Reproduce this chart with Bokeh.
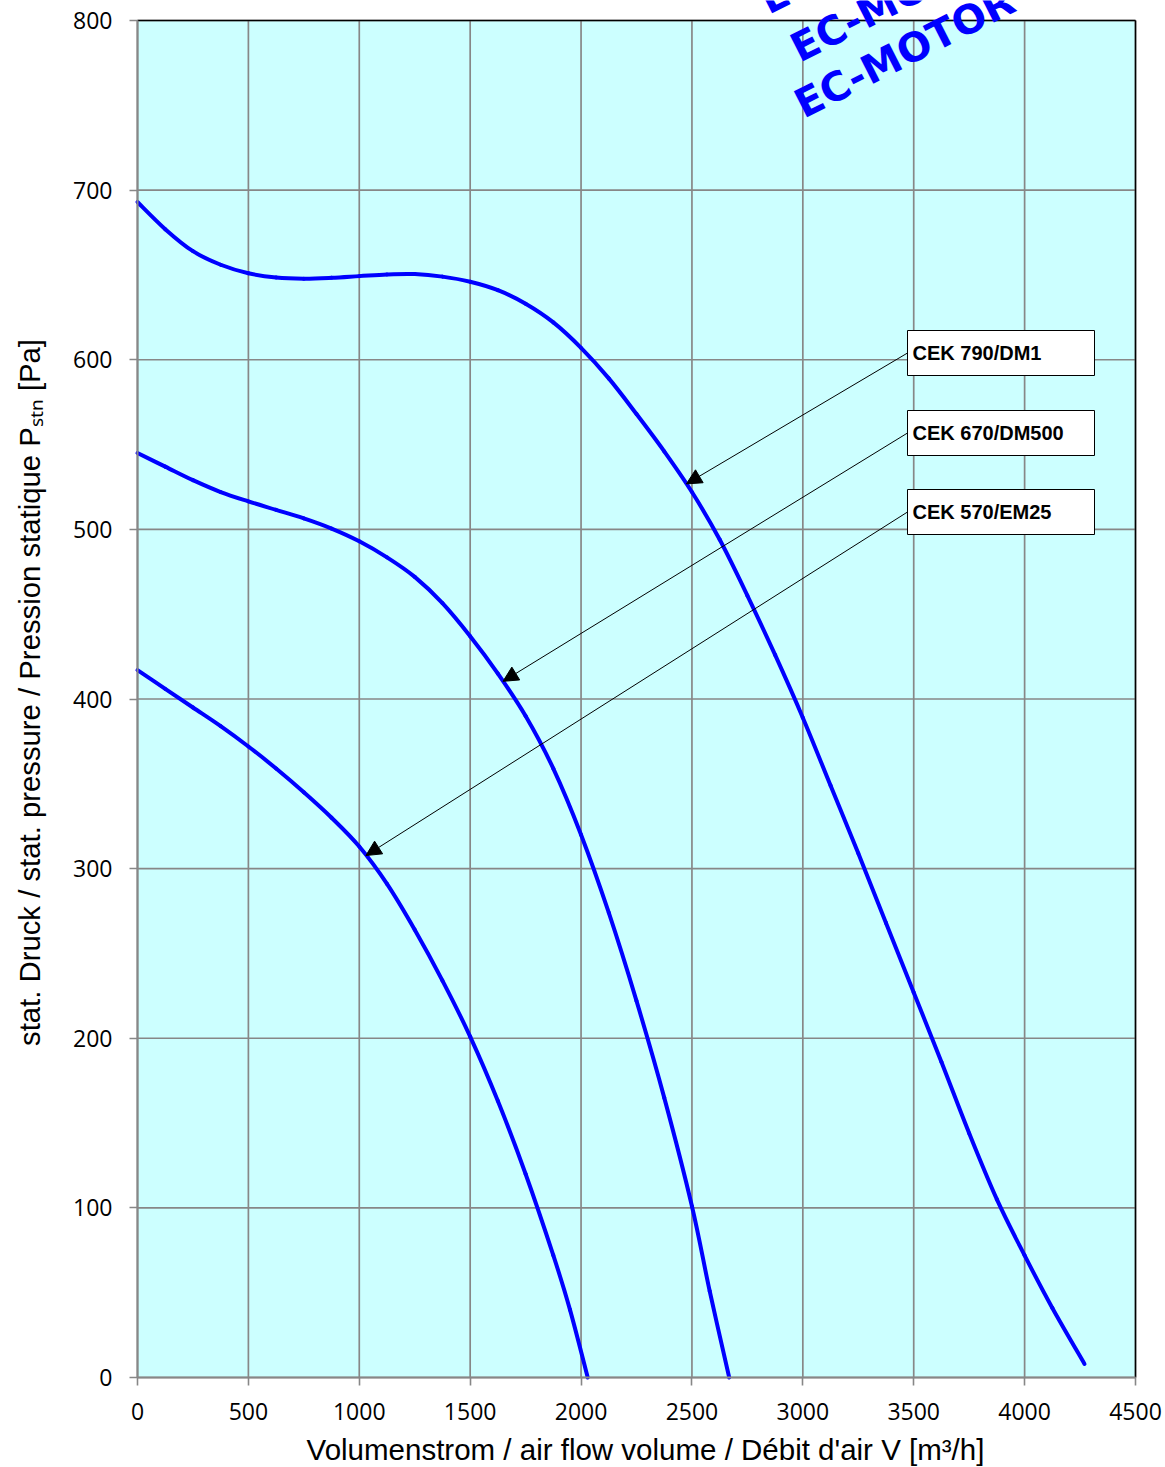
import numpy as np
from bokeh.plotting import figure
from bokeh.models import Range1d, Label, Arrow, NormalHead, BoxAnnotation, FixedTicker
from bokeh.embed import file_html
from bokeh.resources import INLINE

# ---------------- data ----------------
x_790 = [0, 125, 250, 375, 500, 625, 750, 875, 1000, 1125, 1250, 1375, 1500, 1625, 1750, 1875,
         2000, 2125, 2250, 2375, 2500, 2625, 2750, 2875, 3000, 3125, 3250, 3375, 3500, 3625,
         3750, 3875, 4000, 4125, 4270]
p_790 = [693, 677, 664, 656, 651, 648.5, 647.8, 648.3, 649.3, 650.3, 650.5, 649, 646, 641, 633, 622,
         607, 589, 568, 546, 522, 494, 461, 426, 389, 349, 309, 268, 227, 186,
         144, 105, 72, 41, 8]

x_670 = [0, 125, 250, 375, 500, 625, 750, 875, 1000, 1125, 1250, 1375, 1500, 1625, 1750, 1875,
         2000, 2125, 2250, 2375, 2500, 2580, 2668]
p_670 = [545, 537, 529, 522, 516.5, 511.5, 506.5, 500.5, 493, 483.5, 472, 456.5, 437, 415, 390, 359,
         320, 274, 222, 165, 101, 51, 0]

x_570 = [0, 125, 250, 375, 500, 625, 750, 875, 1000, 1125, 1250, 1375, 1500, 1625, 1750, 1875,
         1950, 2030]
p_570 = [417, 406, 395, 384, 372, 359, 345, 330, 313, 291, 264, 234, 201, 163, 120, 72,
         40, 0]

models = ["CEK 790/DM1", "CEK 670/DM500", "CEK 570/EM25"]
arrow_tip_x = [2475, 1648, 1030]

x_ticks = [0, 500, 1000, 1500, 2000, 2500, 3000, 3500, 4000, 4500]
y_ticks = [0, 100, 200, 300, 400, 500, 600, 700, 800]

x_title = "Volumenstrom / air flow volume / Débit d'air V [m³/h]"
y_title = "stat. Druck / stat. pressure / Pression statique P\u209b\u209c\u2099 [Pa]"
watermark = "EC-MOTOR"

X_MAX, Y_MAX = 4500, 800

# ---------------- figure: the frame fills the whole canvas ----------------
W, H = 1165, 1467
BOX_L, BOX_T, BOX_R, BOX_B = 137, 20, 1135, 1377      # chart box in canvas px
sx = (BOX_R - BOX_L) / X_MAX
sy = (BOX_B - BOX_T) / Y_MAX
x_rng = Range1d(-BOX_L / sx, (W - BOX_L) / sx)
y_rng = Range1d(-(H - BOX_B) / sy, BOX_B / sy)

def dx(px):   # canvas px -> data x
    return (px - BOX_L) / sx

def dy(py):   # canvas px -> data y
    return (BOX_B - py) / sy

p = figure(width=W, height=H, output_backend="svg", toolbar_location=None,
           x_range=x_rng, y_range=y_rng,
           min_border_left=0, min_border_right=0, min_border_top=0, min_border_bottom=0)

p.background_fill_color = "white"
p.border_fill_color = "white"
p.outline_line_color = None
p.xgrid.visible = False
p.ygrid.visible = False

# chart box background
p.quad(left=[0], right=[X_MAX], bottom=[0], top=[Y_MAX], fill_color="#CCFFFF", line_color=None)

# grid lines inside the box
grid_col = "#878787"
p.segment(x0=x_ticks, y0=[0] * len(x_ticks), x1=x_ticks, y1=[Y_MAX] * len(x_ticks),
          line_color=grid_col, line_width=1.7)
p.segment(x0=[0] * len(y_ticks), y0=y_ticks, x1=[X_MAX] * len(y_ticks), y1=y_ticks,
          line_color=grid_col, line_width=1.7)

# top / right border of the chart box
p.segment(x0=[0, X_MAX], y0=[Y_MAX, 0], x1=[X_MAX, X_MAX], y1=[Y_MAX, Y_MAX],
          line_color="black", line_width=1.5)

# axes placed on the box edges
for ax, ticks, b in ((p.xaxis, x_ticks, (0, X_MAX)), (p.yaxis, y_ticks, (0, Y_MAX))):
    ax.fixed_location = 0
    ax.ticker = FixedTicker(ticks=ticks)
    ax.bounds = b
    ax.axis_line_color = grid_col
    ax.axis_line_width = 2
    ax.major_tick_line_color = grid_col
    ax.major_tick_line_width = 1.6
    ax.major_tick_out = 8
    ax.major_tick_in = 0
    ax.minor_tick_line_color = None
    ax.major_label_text_font = "Open Sans"
    ax.major_label_text_font_size = "23px"
    ax.major_label_text_color = "black"
p.xaxis.major_label_standoff = 17
p.yaxis.major_label_standoff = 17

# axis titles
p.add_layout(Label(x=dx(645), y=dy(1449), text=x_title, text_font="Liberation Sans",
                   text_font_size="29.5px", text_color="black",
                   text_align="center", text_baseline="middle"))
p.add_layout(Label(x=dx(29), y=dy(692), angle=np.pi / 2, text=y_title, text_font="Liberation Sans",
                   text_font_size="29.3px", text_color="black",
                   text_align="center", text_baseline="middle"))

# curves, drawn as smooth Bezier segments through the read points
def bezier_through(xs, ps):
    x = np.asarray(xs, float)
    y = np.asarray(ps, float)
    xp = np.concatenate([[x[0]], x, [x[-1]]])
    yp = np.concatenate([[y[0]], y, [y[-1]]])
    i = np.arange(len(x) - 1)
    x0, y0 = xp[i + 1], yp[i + 1]
    x1, y1 = xp[i + 2], yp[i + 2]
    cx0 = x0 + (x1 - xp[i]) / 6.0
    cy0 = y0 + (y1 - yp[i]) / 6.0
    cx1 = x1 - (xp[i + 3] - x0) / 6.0
    cy1 = y1 - (yp[i + 3] - y0) / 6.0
    return dict(x0=x0, y0=y0, x1=x1, y1=y1, cx0=cx0, cy0=cy0, cx1=cx1, cy1=cy1)

curves = [(x_790, p_790), (x_670, p_670), (x_570, p_570)]
for xs, ps in curves:
    p.bezier(**bezier_through(xs, ps), line_color="#0000FF", line_width=4, line_cap="round")

# legend boxes + arrows
box_left, box_right = dx(907), dx(1094)
box_centers = [dy(352.5), dy(432.5), dy(511.5)]
box_half = 22.5 / sy
for (xs, ps), name, tx, cy in zip(curves, models, arrow_tip_x, box_centers):
    ty = float(np.interp(tx, xs, ps))
    p.add_layout(Arrow(end=NormalHead(size=15, fill_color="black", line_color="black"),
                       x_start=box_left, y_start=cy, x_end=tx, y_end=ty,
                       line_color="black", line_width=1))
    p.add_layout(BoxAnnotation(left=box_left, right=box_right, bottom=cy - box_half, top=cy + box_half,
                               fill_color="white", fill_alpha=1.0, line_color="black", line_width=1,
                               line_alpha=1.0))
    p.add_layout(Label(x=box_left, y=cy, x_offset=5, text=name, text_font="Liberation Sans",
                       text_font_style="bold", text_font_size="20px", text_color="black",
                       text_align="left", text_baseline="middle"))

# watermark
for wpx, wpy in ((797, 106), (793, 50), (762, 2)):
    p.add_layout(Label(x=dx(wpx), y=dy(wpy), angle=0.47, text=watermark, text_font="DejaVu Sans",
                       text_font_style="bold", text_font_size="40px", text_color="#0000FF",
                       text_align="left", text_baseline="alphabetic"))

open("out.html", "w").write(file_html(p, INLINE))
